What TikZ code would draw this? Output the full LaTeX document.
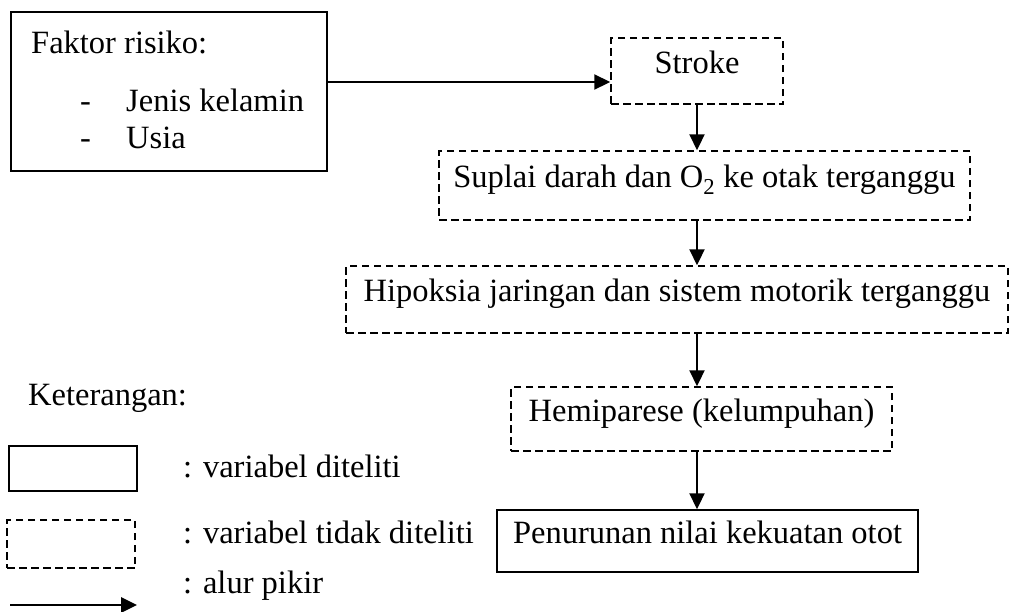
\documentclass[tikz,border=0pt]{standalone}
\usepackage{fontspec}
\setmainfont{Liberation Serif}
\usetikzlibrary{arrows.meta}
\begin{document}
\begin{tikzpicture}[x=1pt,y=-1pt,
  every node/.style={font=\fontsize{32.5}{39}\selectfont, inner sep=0pt},
  boxtext/.style={text height=0.68em, text depth=0.22em},
  solidbox/.style={draw, line width=1.5pt, boxtext},
  dashbox/.style={draw, line width=1.5pt, dash pattern=on 7.5pt off 4.5pt, boxtext},
  arr/.style={line width=2.2pt, -{Triangle[length=16pt,width=15pt]}},
  lbl/.style={anchor=base west}]
\useasboundingbox (0,0) rectangle (1011,611);

% main boxes
\node[solidbox, minimum width=316pt, minimum height=159pt] (faktor) at (169,91.5) {};
\node[lbl] (ftitle) at (31,53) {Faktor risiko:};
\node[lbl] (fd1) at (80,111) {-};
\node[lbl] (fi1) at (126,111) {Jenis kelamin};
\node[lbl] (fd2) at (80,148) {-};
\node[lbl] (fi2) at (126,148) {Usia};

\node[dashbox, minimum width=172pt, minimum height=66pt] (stroke) at (697,71) {Stroke};
\node[dashbox, minimum width=531pt, minimum height=69pt] (suplai) at (704.5,185.5) {Suplai darah dan O\textsubscript{2} ke otak terganggu};
\node[dashbox, minimum width=662pt, minimum height=67pt] (hipoksia) at (677,299.5) {Hipoksia jaringan dan sistem motorik terganggu};
\node[dashbox, minimum width=381pt, minimum height=64pt] (hemi) at (701.5,419) {Hemiparese (kelumpuhan)};
\node[solidbox, minimum width=421pt, minimum height=62pt] (penurunan) at (707.5,541) {Penurunan nilai kekuatan otot};

% connectors
\coordinate (ax) at (697,0);
\draw[arr] (faktor.east |- 0,82) -- (stroke.west |- 0,82);
\draw[arr] (stroke.south -| ax) -- (suplai.north -| ax);
\draw[arr] (suplai.south -| ax) -- (hipoksia.north -| ax);
\draw[arr] (hipoksia.south -| ax) -- (hemi.north -| ax);
\draw[arr] (hemi.south -| ax) -- (penurunan.north -| ax);

% legend
\node[lbl] (ket) at (28,405) {Keterangan:};
\node[solidbox, minimum width=128pt, minimum height=45pt] (lsolid) at (73,468.5) {};
\node[dashbox, minimum width=128pt, minimum height=48pt] (ldash) at (71,544) {};
\coordinate (la1) at (10,605);
\coordinate (la2) at (137,605);
\draw[line width=2.8pt, -{Triangle[length=16pt,width=15pt]}] (la1) -- (la2);
\node[lbl] (l1) at (183,477) {: variabel diteliti};
\node[lbl] (l2) at (183,543) {: variabel tidak diteliti};
\node[lbl] (l3) at (183,593) {: alur pikir};
\end{tikzpicture}
\end{document}
